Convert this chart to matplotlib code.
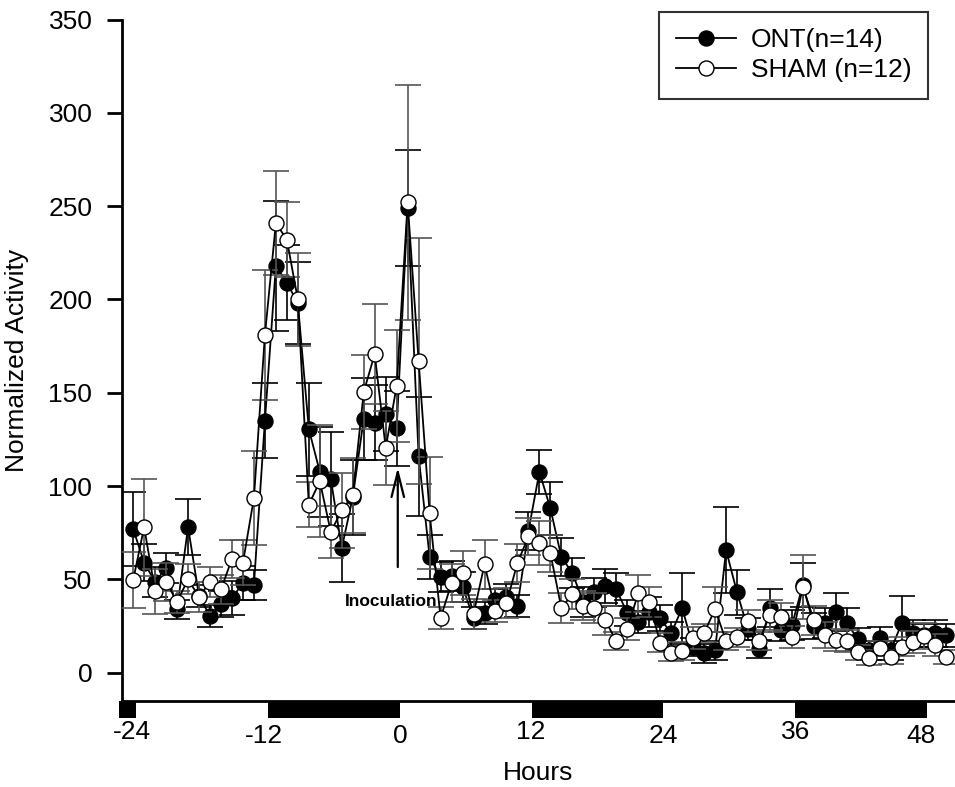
import numpy as np
import matplotlib.pyplot as plt
from matplotlib.lines import Line2D
from matplotlib.patches import Rectangle
import matplotlib.transforms as mtransforms

plt.rcParams["font.family"] = ["Liberation Sans", "DejaVu Sans"]

# hourly samples, inoculation at hour 0
hours = np.arange(75) - 24.3

ont = [77, 59, 48.6, 56, 34, 78, 41, 30.4, 37, 40, 48, 47, 135, 218, 209, 198,
       130.5, 107.6, 103.8, 66.8, 94, 136, 134, 138.6, 131, 249, 116, 62, 51.3,
       51.8, 46, 29.3, 32, 39, 40.6, 35.7, 76, 107.6, 88, 62, 53.4, 38, 43, 46.4,
       44.6, 32, 27, 32.4, 29.3, 21, 34.7, 13.7, 10.4, 12, 65.7, 43, 23.4, 12.7,
       34.6, 23, 25.6, 47, 25, 26.6, 32.5, 26.6, 18, 12, 18.5, 12, 26.6, 21, 20,
       21, 20]
ont_err = [20, 10, 8, 8, 5, 15, 6, 6, 7, 9, 9, 8, 20, 35, 20, 22, 25, 24, 25, 18,
           20, 22, 20, 20, 20, 31, 32, 12, 8, 8, 8, 6, 6, 6, 7, 6, 10, 12, 14, 10,
           8, 8, 8, 9, 9, 7, 6, 8, 7, 6, 18.7, 5, 5, 5, 23, 12, 6, 5, 10, 6, 8,
           12, 7, 8, 10, 8, 6, 5, 6, 5, 14.5, 7, 6, 7, 6]

sham = [49.6, 78, 43.7, 48.6, 38, 50, 40.6, 48.6, 44.6, 61, 59, 93.6, 181, 241,
        232, 200, 90, 102.6, 75.4, 87, 95, 150.4, 170.8, 120.5, 153.6, 252, 167,
        85.5, 29.3, 48, 53.4, 31.4, 58, 33, 37.3, 58.8, 73, 69.5, 64, 34.7, 42,
        36, 34.6, 28, 17, 23.4, 42.6, 38, 16, 10.5, 11.6, 18.5, 21.3, 34, 17, 19,
        27.8, 17, 31, 29.6, 19, 46, 28, 20, 17.5, 17, 11, 8, 13, 8.4, 14, 16.5,
        19.6, 14.8, 8.4]
sham_err = [15, 26, 12, 10, 6, 8, 8, 8, 8, 10, 12, 25, 35, 28, 20, 25, 12, 30, 14,
            20, 20, 20, 27, 20, 30, 63, 66, 30, 6, 10, 12, 8, 13, 6, 8, 10, 10, 12,
            10, 8, 8, 8, 8, 8, 5, 6, 10, 8, 5, 4, 5, 6, 5, 12, 5, 5, 6, 5, 8, 8, 6,
            17, 8, 7, 6, 6, 4, 4, 4, 4, 5, 6, 7, 6, 4]

# dark periods of the light/dark cycle
nights = [(-25.6, -24), (-12, 0), (12, 24), (36, 48)]

xticks = [-24, -12, 0, 12, 24, 36, 48]
xtick_labels = ["-24", "-12", "0", "12", "24", "36", "48"]
yticks = [0, 50, 100, 150, 200, 250, 300, 350]

fig = plt.figure(figsize=(9.55, 7.87), dpi=100)
ax = fig.add_axes([0.1277, 0.1097, 0.8723, 0.8654])

ax.errorbar(hours, ont, yerr=ont_err, fmt="-o", color="black", mfc="black",
            mec="black", ms=10.8, lw=1.3, ecolor="black", elinewidth=1.2,
            capsize=9.7, capthick=1.2, zorder=3)
ax.errorbar(hours, sham, yerr=sham_err, fmt="-o", color="black", mfc="white",
            mec="black", ms=10.8, lw=1.3, ecolor="#555555", elinewidth=1.2,
            capsize=9.7, capthick=1.2, zorder=4)

ax.set_xlim(-25.32, 50.55)
ax.set_ylim(-15, 350)

for side in ["top", "right"]:
    ax.spines[side].set_visible(False)
ax.spines["left"].set_linewidth(2)
ax.spines["bottom"].set_linewidth(2)

ax.set_yticks(yticks)
ax.set_yticklabels([str(v) for v in yticks])
ax.tick_params(axis="y", direction="out", length=10.8, width=2, pad=10.5, labelsize=19)

ax.set_xticks(xticks)
ax.set_xticklabels(xtick_labels)
ax.tick_params(axis="x", length=0, pad=14, labelsize=19)
# staggered hour labels
label_shift = [(-3.5, 0), (-3, -2.5), (0, -2.5), (-1, 0), (0, -2.5), (0, 0), (-4.5, -2.5)]
for lab, (dx, dy) in zip(ax.get_xticklabels(), label_shift):
    lab.set_transform(lab.get_transform() +
                      mtransforms.ScaledTranslation(dx / 72, dy / 72, fig.dpi_scale_trans))

# night bars under the time axis
bar_trans = mtransforms.blended_transform_factory(ax.transData, ax.transAxes)
for start, end in nights:
    ax.add_patch(Rectangle((start, -0.025), end - start, 0.025, transform=bar_trans,
                           facecolor="black", edgecolor="none", clip_on=False))

ax.set_xlabel("Hours", fontsize=19, labelpad=10)
ax.set_ylabel("Normalized Activity", fontsize=19, labelpad=14)

ax.annotate("", xy=(-0.2, 110), xytext=(-0.2, 56.6),
            arrowprops=dict(arrowstyle="->,head_length=1.8,head_width=0.45",
                            lw=1.6, color="black", mutation_scale=10, shrinkA=0, shrinkB=0),
            zorder=5)
ax.text(-0.77, 38.4, "Inoculation", fontsize=12.5, fontweight="bold",
        ha="center", va="center", zorder=6)

handles = [
    Line2D([0], [0], color="black", lw=1.3, marker="o", ms=10.8, mfc="black", mec="black"),
    Line2D([0], [0], color="black", lw=1.3, marker="o", ms=10.8, mfc="white", mec="black"),
]
leg = fig.legend(handles, ["ONT(n=14)", "SHAM (n=12)"], loc="upper right",
                 bbox_to_anchor=(0.9717, 0.9848), borderaxespad=0, fontsize=19,
                 frameon=True, fancybox=False, edgecolor="black", handlelength=2.3,
                 handletextpad=0.55, labelspacing=0.23, borderpad=0.62)
leg.get_frame().set_linewidth(1.5)

plt.savefig("out.png", dpi=100)
